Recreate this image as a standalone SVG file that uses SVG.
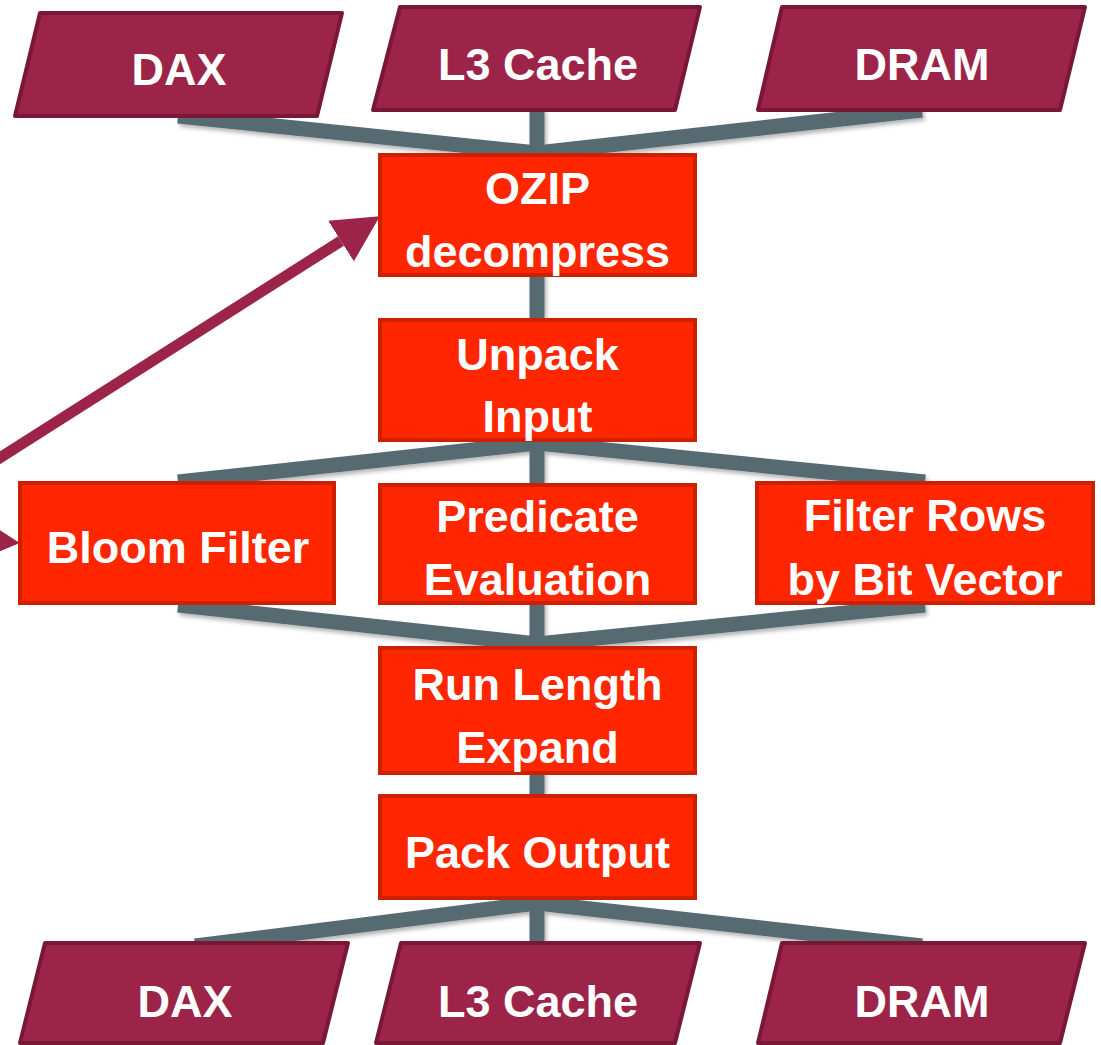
<svg xmlns="http://www.w3.org/2000/svg" width="1101" height="1045" viewBox="0 0 1101 1045">
<style>
  .mem { fill: #9C2449; stroke: #7A1737; stroke-width: 4; stroke-linejoin: round; }
  .op { fill: #FF2600; stroke: #CC2000; stroke-width: 4; }
  .lbl { font-family: "Liberation Sans", Arial, sans-serif; font-weight: bold; font-size: 45px; fill: #FFFFFF; text-anchor: middle; }
  .conn { stroke: #566A71; stroke-width: 15; fill: none; stroke-linecap: butt; }
  .arr { stroke: #9C2449; stroke-width: 11; fill: none; }
</style>
<defs>
  <filter id="sh" x="-10%" y="-50%" width="120%" height="200%">
    <feDropShadow dx="2" dy="3" stdDeviation="2" flood-color="#000" flood-opacity="0.3"/>
  </filter>
  <marker id="head" markerUnits="userSpaceOnUse" markerWidth="48" markerHeight="48" refX="0" refY="24" orient="auto">
    <path d="M0,0 L46,24 L0,48 z" fill="#9C2449"/>
  </marker>
</defs>
<rect width="1101" height="1045" fill="#FFFFFF"/>

<g id="connectors" filter="url(#sh)">
  <line class="conn" x1="178" y1="116" x2="537" y2="153"/>
  <line class="conn" x1="922" y1="110" x2="537" y2="153"/>
  <line class="conn" x1="537" y1="108" x2="537" y2="160"/>
  <line class="conn" x1="537" y1="270" x2="537" y2="325"/>
  <line class="conn" x1="537" y1="443" x2="178" y2="482"/>
  <line class="conn" x1="537" y1="443" x2="925" y2="482"/>
  <line class="conn" x1="537" y1="436" x2="537" y2="490"/>
  <line class="conn" x1="178" y1="605" x2="537" y2="644"/>
  <line class="conn" x1="925" y1="605" x2="537" y2="644"/>
  <line class="conn" x1="537" y1="600" x2="537" y2="652"/>
  <line class="conn" x1="537" y1="770" x2="537" y2="800"/>
  <line class="conn" x1="537" y1="903" x2="195" y2="946"/>
  <line class="conn" x1="537" y1="903" x2="922" y2="946"/>
  <line class="conn" x1="537" y1="895" x2="537" y2="947"/>
</g>

<g id="arrows">
  <line class="arr" x1="-10" y1="464" x2="341" y2="241" marker-end="url(#head)"/>
  <line class="arr" x1="-200" y1="524" x2="-26" y2="539" marker-end="url(#head)"/>
</g>

<g id="dax-top">
  <polygon class="mem" points="40,13 342,13 317,116 15,116"/>
  <text class="lbl" x="179" y="85">DAX</text>
</g>
<g id="l3-top">
  <polygon class="mem" points="400,7 700,7 675,110 373,110"/>
  <text class="lbl" x="538" y="80">L3 Cache</text>
</g>
<g id="dram-top">
  <polygon class="mem" points="782,7 1085,7 1060,110 758,110"/>
  <text class="lbl" x="922" y="80">DRAM</text>
</g>

<g id="ozip">
  <rect class="op" x="380" y="155" width="315" height="120"/>
  <text class="lbl" x="537.5" y="204">OZIP</text>
  <text class="lbl" x="537.5" y="267">decompress</text>
</g>
<g id="unpack">
  <rect class="op" x="380" y="320" width="315" height="120"/>
  <text class="lbl" x="537.5" y="370">Unpack</text>
  <text class="lbl" x="537.5" y="432">Input</text>
</g>
<g id="bloom">
  <rect class="op" x="20" y="483" width="314" height="120"/>
  <text class="lbl" x="178" y="563">Bloom Filter</text>
</g>
<g id="predicate">
  <rect class="op" x="380" y="485" width="315" height="118"/>
  <text class="lbl" x="537.5" y="532">Predicate</text>
  <text class="lbl" x="537.5" y="595">Evaluation</text>
</g>
<g id="filter-rows">
  <rect class="op" x="757" y="483" width="336" height="120"/>
  <text class="lbl" x="925" y="531">Filter Rows</text>
  <text class="lbl" x="925" y="595">by Bit Vector</text>
</g>
<g id="rle">
  <rect class="op" x="380" y="648" width="315" height="125"/>
  <text class="lbl" x="537.5" y="700">Run Length</text>
  <text class="lbl" x="537.5" y="763">Expand</text>
</g>
<g id="pack">
  <rect class="op" x="380" y="796" width="315" height="102"/>
  <text class="lbl" x="537.5" y="868">Pack Output</text>
</g>

<g id="dax-bottom">
  <polygon class="mem" points="45,943 348,943 323,1043 20,1043"/>
  <text class="lbl" x="185" y="1017">DAX</text>
</g>
<g id="l3-bottom">
  <polygon class="mem" points="401,943 700,943 675,1043 376,1043"/>
  <text class="lbl" x="538" y="1017">L3 Cache</text>
</g>
<g id="dram-bottom">
  <polygon class="mem" points="782,943 1085,943 1060,1043 758,1043"/>
  <text class="lbl" x="922" y="1017">DRAM</text>
</g>
</svg>
